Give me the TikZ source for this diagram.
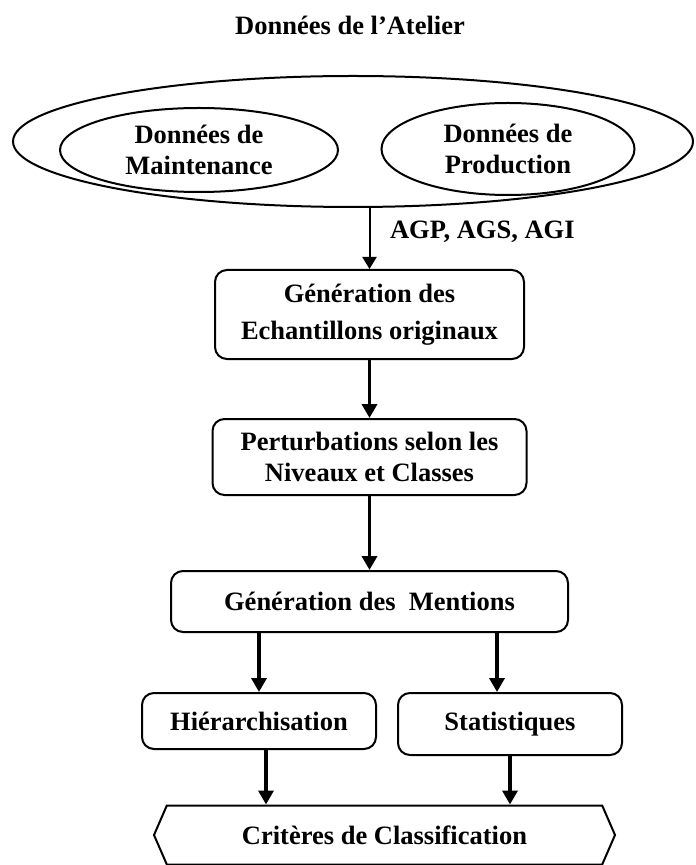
\documentclass[tikz,border=0pt]{standalone}
\usepackage{fontspec}
\setmainfont{Liberation Serif}
\usepackage{tikz}
\usetikzlibrary{arrows.meta, positioning, shapes.geometric, shapes.symbols}

\begin{document}
\begin{tikzpicture}[
        x=0.5pt, y=-0.5pt,
        txt/.style={font=\fontsize{13.25}{15.5}\selectfont\bfseries, align=center},
        blob/.style={ellipse, draw, line width=1pt, inner sep=0pt, txt},
        box/.style={rectangle, draw, line width=1pt, rounded corners=6pt, inner sep=0pt, txt},
        endbox/.style={signal, signal to=west and east, signal pointer angle=133,
                       draw, line width=1pt, inner sep=0pt, txt},
        arrow/.style={draw, -{Triangle[length=7pt, width=7.5pt]}, line width=1.8pt},
        thinarrow/.style={draw, -{Triangle[length=6pt, width=7pt]}, line width=1pt}
    ]
        \useasboundingbox (0,0) rectangle (695,865);
        \node [txt] (titre) at (350,25) {Données de l’Atelier};
        \node [blob, minimum width=340pt, minimum height=65.5pt] (atelier) at (353,141.5) {};
        \node [blob, minimum width=139pt, minimum height=42pt] (maint) at (199,150) {Données de\\Maintenance};
        \node [blob, minimum width=126.5pt, minimum height=46pt] (prod) at (508,149) {Données de\\Production};
        \node [box, minimum width=154.5pt, minimum height=44.5pt] (echant) at (369.5,314.5) {Génération des\\[3pt]Echantillons originaux};
        \node [txt, anchor=west] (agp) at (383,232) {AGP, AGS, AGI};
        \node [box, minimum width=157pt, minimum height=38pt, below=29pt of echant] (perturb) {Perturbations selon les\\Niveaux et Classes};
        \node [box, minimum width=198.5pt, minimum height=30.5pt, below=37pt of perturb] (mentions) {Génération des\ \ Mentions};
        \node [box, minimum width=117pt, minimum height=28pt] (hier) at (259,721) {Hiérarchisation};
        \node [box, minimum width=112pt, minimum height=31pt] (stat) at (510,724) {Statistiques};
        \node [endbox, minimum width=230.5pt, minimum height=29.5pt] (criteres) at (384.5,835) {Critères de Classification};
        \path [thinarrow] (atelier.south -| echant.north) -- (echant.north);
        \path [arrow] (echant) -- (perturb);
        \path [arrow] (perturb) -- (mentions);
        \path [arrow] (hier.north |- mentions.south) -- (hier.north);
        \path [arrow] ([xshift=-6.5pt]stat.north |- mentions.south) -- ([xshift=-6.5pt]stat.north);
        \path [arrow] ([xshift=3.5pt]hier.south) -- ([xshift=3.5pt]hier.south |- criteres.north);
        \path [arrow] (stat.south) -- (stat.south |- criteres.north);
\end{tikzpicture}
\end{document}
